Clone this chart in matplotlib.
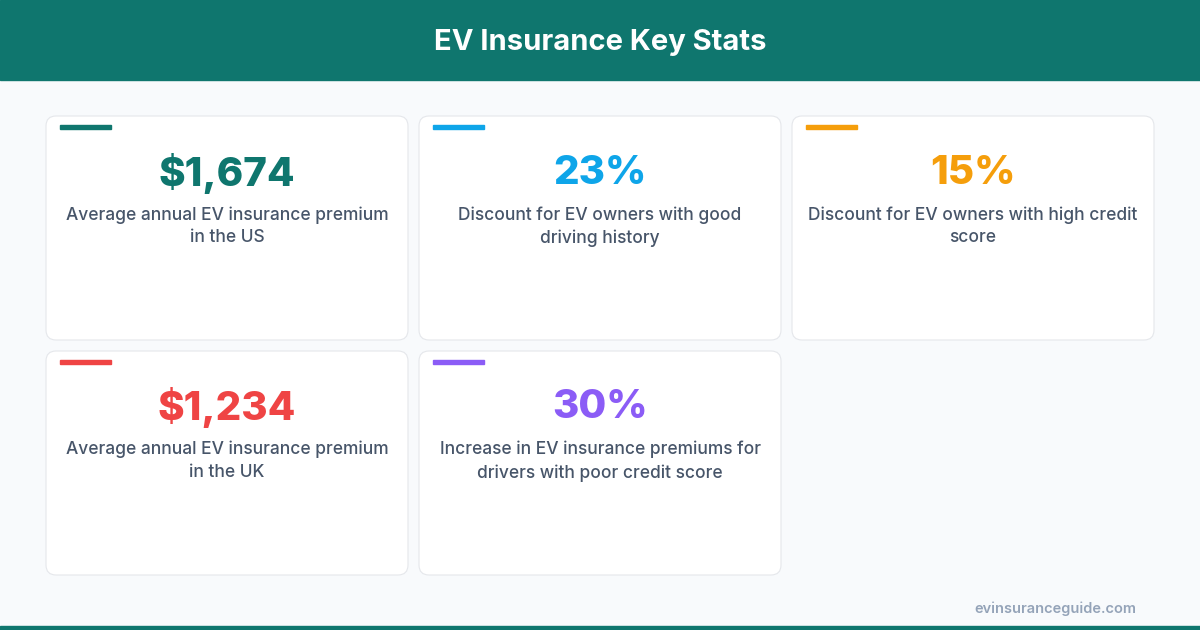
import matplotlib
matplotlib.use("Agg")
import matplotlib.pyplot as plt
from matplotlib.patches import FancyBboxPatch, Rectangle

title = "EV Insurance Key Stats"
values = ["$1,674", "23%", "15%", "$1,234", "30%"]
labels = [
    "Average annual EV insurance premium\nin the US",
    "Discount for EV owners with good\ndriving history",
    "Discount for EV owners with high credit\nscore",
    "Average annual EV insurance premium\nin the UK",
    "Increase in EV insurance premiums for\ndrivers with poor credit score",
]
colors = ["#0f766e", "#0ea5e9", "#f59e0b", "#ef4444", "#8b5cf6"]
source = "evinsuranceguide.com"

plt.rcParams['font.family'] = ['Inter', 'DejaVu Sans']

fig = plt.figure(figsize=(12, 6.3), dpi=100)
ax = fig.add_axes([0, 0, 1, 1])
ax.set_xlim(0, 1200)
ax.set_ylim(630, 0)
ax.axis("off")
fig.patch.set_facecolor("#f8fafc")

# header band
ax.add_patch(Rectangle((0, 0), 1200, 80, color="#0f766e"))
ax.text(600, 42, title, ha="center", va="center", color="white",
        fontsize=21, fontweight="bold")
# bottom strip
ax.add_patch(Rectangle((0, 626), 1200, 4, color="#0f766e"))

card_w, card_h = 362, 224
for i, (val, lab, col) in enumerate(zip(values, labels, colors)):
    row, c = divmod(i, 3)
    x0 = 46 + c * 373
    y0 = 116 + row * 235
    ax.add_patch(FancyBboxPatch((x0, y0), card_w, card_h,
                                boxstyle="round,pad=0,rounding_size=10",
                                facecolor="white", edgecolor="#e5e7eb", lw=0.8))
    ax.add_patch(Rectangle((x0 + 14, y0 + 9), 51, 4, color=col))
    cx = x0 + card_w / 2
    ax.text(cx, y0 + 57, val, ha="center", va="center", color=col,
            fontsize=29, fontweight="heavy")
    ax.text(cx, y0 + 90, lab, ha="center", va="top", color="#475569",
            fontsize=12.5, fontweight="medium", linespacing=1.45)

ax.text(1136, 609, source, ha="right", va="center", color="#94a3b8",
        fontsize=10.5, fontweight="semibold")

fig.savefig("out.png", dpi=100, facecolor=fig.get_facecolor())
